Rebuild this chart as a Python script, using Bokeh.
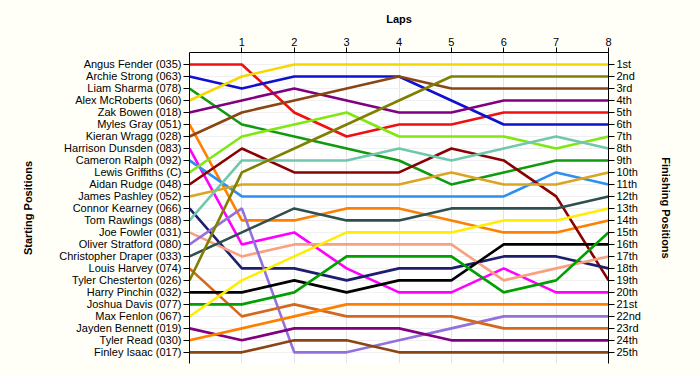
from bokeh.plotting import figure
from bokeh.models import Range1d, LinearAxis, FixedTicker
from bokeh.embed import file_html
from bokeh.resources import INLINE

laps = [0, 1, 2, 3, 4, 5, 6, 7, 8]
lap_ticks = [1, 2, 3, 4, 5, 6, 7, 8]

drivers = [
    "Angus Fender (035)", "Archie Strong (063)", "Liam Sharma (078)",
    "Alex McRoberts (060)", "Zak Bowen (018)", "Myles Gray (051)",
    "Kieran Wragg (028)", "Harrison Dunsden (083)", "Cameron Ralph (092)",
    "Lewis Griffiths (C)", "Aidan Rudge (048)", "James Pashley (052)",
    "Connor Kearney (066)", "Tom Rawlings (088)", "Joe Fowler (031)",
    "Oliver Stratford (080)", "Christopher Draper (033)", "Louis Harvey (074)",
    "Tyler Chesterton (026)", "Harry Pinchin (032)", "Joshua Davis (077)",
    "Max Fenlon (067)", "Jayden Bennett (019)", "Tyler Read (030)",
    "Finley Isaac (017)",
]

finish_labels = [
    "1st", "2nd", "3rd", "4th", "5th", "6th", "7th", "8th", "9th", "10th",
    "11th", "12th", "13th", "14th", "15th", "16th", "17th", "18th", "19th",
    "20th", "21st", "22nd", "23rd", "24th", "25th",
]

# positions per lap (lap 0 .. lap 8)
angus_fender = [1, 1, 5, 7, 6, 6, 5, 5, 5]
archie_strong = [2, 3, 2, 2, 2, 4, 6, 6, 6]
liam_sharma = [3, 6, 7, 8, 9, 11, 10, 9, 9]
alex_mcroberts = [4, 2, 1, 1, 1, 1, 1, 1, 1]
zak_bowen = [5, 4, 3, 4, 5, 5, 4, 4, 4]
myles_gray = [6, 14, 14, 13, 13, 14, 15, 15, 14]
kieran_wragg = [7, 5, 4, 3, 2, 3, 3, 3, 3]
harrison_dunsden = [8, 16, 15, 18, 20, 20, 18, 20, 20]
cameron_ralph = [9, 12, 12, 12, 12, 12, 12, 10, 11]
lewis_griffiths = [10, 7, 6, 5, 7, 7, 7, 8, 7]
aidan_rudge = [11, 8, 10, 10, 10, 8, 9, 12, 19]
james_pashley = [12, 11, 11, 11, 11, 10, 11, 11, 10]
connor_kearney = [13, 18, 18, 19, 18, 18, 17, 17, 18]
tom_rawlings = [14, 9, 9, 9, 8, 9, 8, 7, 8]
joe_fowler = [15, 17, 16, 16, 16, 16, 19, 18, 17]
oliver_stratford = [16, 13, 25, 25, 24, 23, 22, 22, 22]
christopher_draper = [17, 15, 13, 14, 14, 13, 13, 13, 12]
louis_harvey = [18, 22, 21, 22, 22, 22, 23, 23, 23]
tyler_chesterton = [19, 10, 8, 6, 4, 2, 2, 2, 2]
harry_pinchin = [20, 20, 19, 20, 19, 19, 16, 16, 16]
joshua_davis = [21, 21, 20, 17, 17, 17, 20, 19, 15]
max_fenlon = [22, 19, 17, 15, 15, 15, 14, 14, 13]
jayden_bennett = [23, 24, 23, 23, 23, 24, 24, 24, 24]
tyler_read = [24, 23, 22, 21, 21, 21, 21, 21, 21]
finley_isaac = [25, 25, 24, 24, 25, 25, 25, 25, 25]

series = [
    angus_fender, archie_strong, liam_sharma, alex_mcroberts, zak_bowen,
    myles_gray, kieran_wragg, harrison_dunsden, cameron_ralph, lewis_griffiths,
    aidan_rudge, james_pashley, connor_kearney, tom_rawlings, joe_fowler,
    oliver_stratford, christopher_draper, louis_harvey, tyler_chesterton,
    harry_pinchin, joshua_davis, max_fenlon, jayden_bennett, tyler_read,
    finley_isaac,
]

colors = [
    "#F01010", "#1010D0", "#109A10", "#F5D800", "#800080",
    "#FF8000", "#8B4513", "#FF00FF", "#2E8FF0", "#80E810",
    "#8B0000", "#DAA520", "#1E1E6E", "#70C8AA", "#F8A080",
    "#9370DB", "#2F4F4F", "#D2691E", "#808000", "#000000",
    "#00A000", "#FFEE00", "#800080", "#FF8000", "#8B4513",
]

positions = list(range(1, len(drivers) + 1))

BG = "#FFFFF7"
FONT = "Liberation Sans"

p = figure(
    width=700, height=375,
    x_range=Range1d(0, 8), y_range=Range1d(25.93, 0.0),
    x_axis_location="above",
    output_backend="svg", toolbar_location=None,
    min_border_left=189, min_border_right=92,
    min_border_top=52, min_border_bottom=12,
)
p.background_fill_color = "white"
p.border_fill_color = BG
p.outline_line_color = None


def style_axis(ax, standoff):
    ax.axis_label_text_font = FONT
    ax.axis_label_text_font_style = "bold"
    ax.axis_label_text_font_size = "11px"
    ax.axis_label_text_color = "black"
    ax.axis_label_standoff = standoff
    ax.major_label_text_font = FONT
    ax.major_label_text_font_size = "11px"
    ax.major_label_text_color = "black"
    ax.major_label_standoff = 2
    ax.major_tick_in = 0
    ax.minor_tick_out = 0
    ax.minor_tick_in = 0
    ax.axis_line_color = "black"
    ax.major_tick_line_color = "black"


# top axis
xa = p.xaxis[0]
xa.ticker = FixedTicker(ticks=lap_ticks)
xa.axis_label = "Laps"
style_axis(xa, 10)
xa.major_tick_out = 5

# left axis
ya = p.yaxis[0]
ya.ticker = FixedTicker(ticks=positions)
ya.major_label_overrides = {i: n for i, n in zip(positions, drivers)}
ya.axis_label = "Starting Positions"
style_axis(ya, 22)
ya.major_tick_out = 6

# right axis
ra = LinearAxis(ticker=FixedTicker(ticks=positions), axis_label="Finishing Positions")
ra.major_label_overrides = {i: n for i, n in zip(positions, finish_labels)}
style_axis(ra, 16)
ra.major_tick_out = 6
p.add_layout(ra, "right")

# grids
p.xgrid.ticker = FixedTicker(ticks=lap_ticks)
p.xgrid.grid_line_color = "#E4E4E4"
p.ygrid.ticker = FixedTicker(ticks=positions)
p.ygrid.grid_line_color = "#F0F0F0"

for ys, c in zip(series, colors):
    p.line(laps, ys, line_color=c, line_width=2.6)

html = file_html(p, INLINE)
html = html.replace(
    "</head>",
    "<style>html, body { background-color: %s !important; }</style></head>" % BG,
    1,
)
open("out.html", "w").write(html)
